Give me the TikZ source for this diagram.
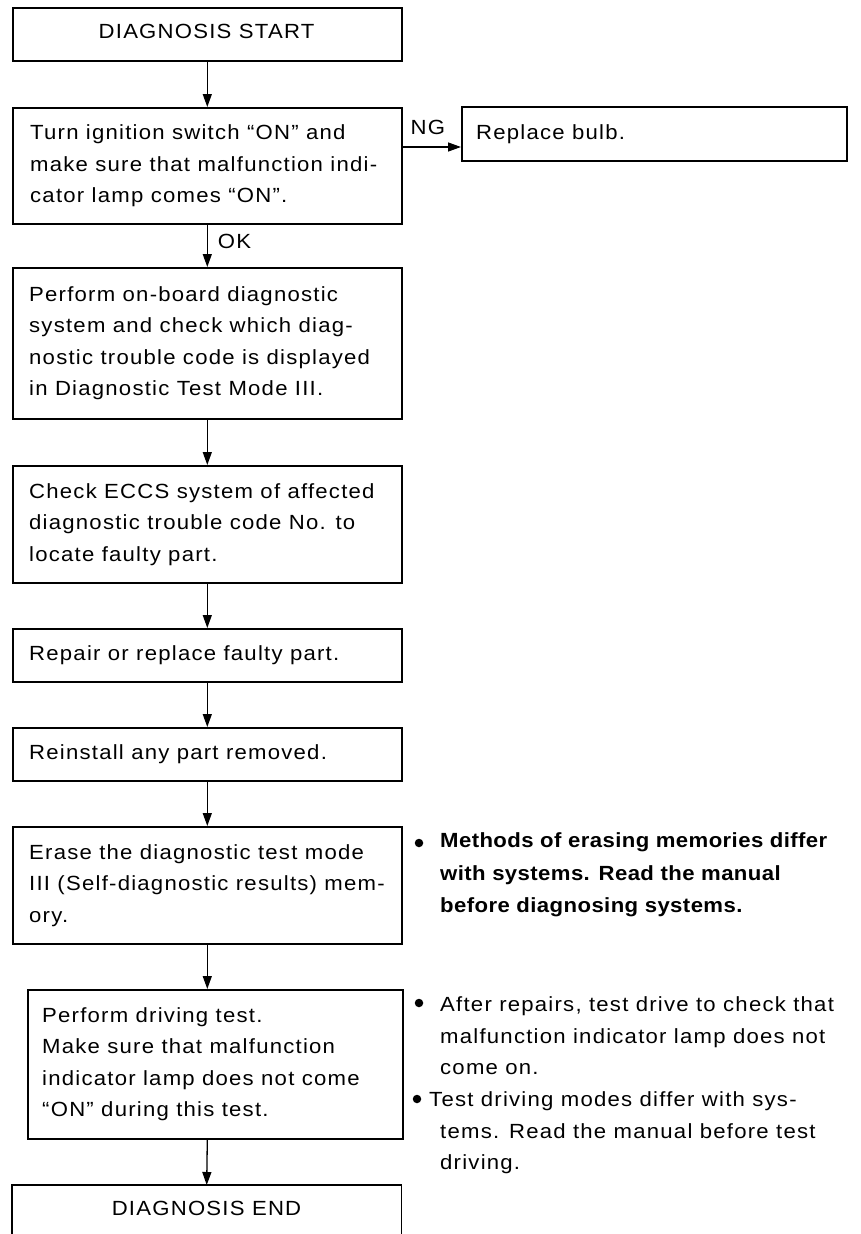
\documentclass[tikz,border=0pt]{standalone}
\usepackage{fontspec}
\setmainfont{Liberation Sans}[FakeStretch=1.08, LetterSpace=6]
\newfontfamily\notebold{Liberation Sans}[FakeStretch=1.08, LetterSpace=2]
\usetikzlibrary{arrows.meta}
\begin{document}
\begin{tikzpicture}[x=1pt,y=-1pt,
  box/.style={draw, line width=1.6pt, minimum width=389pt, inner sep=0pt, anchor=north west},
  txt/.style={align=left, inner sep=0pt, font=\fontsize{20.5}{31.5}\selectfont},
  arr/.style={-{Triangle[length=13pt,width=9pt]}, line width=1.3pt},
  lbl/.style={inner sep=0pt, font=\fontsize{20.5}{24}\selectfont},
  dot/.style={circle, fill, inner sep=0pt, minimum size=8.5pt}]
\useasboundingbox (0,0) rectangle (861,1234);

% flow boxes
\node[box, minimum height=53pt] (b1) at (12,7) {};
\node[lbl] (t1) at (206.5,31) {DIAGNOSIS START};
\node[box, minimum height=116pt] (b2) at (12,107) {};
\node[box, minimum width=385pt, minimum height=54pt] (b3) at (461,106) {};
\node[box, minimum height=151pt] (b4) at (12,267) {};
\node[box, minimum height=117pt] (b5) at (12,465) {};
\node[box, minimum height=53pt] (b6) at (12,628) {};
\node[box, minimum height=53pt] (b7) at (12,727) {};
\node[box, minimum height=117pt] (b8) at (12,826) {};
\node[box, minimum width=375pt, minimum height=149pt] (b9) at (27,989) {};
\node[anchor=north west, inner sep=0pt, minimum width=389pt, minimum height=49pt] (b10) at (12,1185) {};
\draw[line width=1.6pt] (b10.south west) -- (b10.north west) -- (b10.north east) -- (b10.south east);
\node[lbl] (t10) at (206.5,1208) {DIAGNOSIS END};

% box texts
\node[txt, anchor=west] (t2) at ([xshift=18pt]b2.west)
  {Turn ignition switch “ON” and\\make sure that malfunction indi-\\cator lamp comes “ON”.};
\node[txt, anchor=west] (t3) at ([xshift=15pt]b3.west) {Replace bulb.};
\node[txt, anchor=west] (t4) at ([xshift=17pt]b4.west)
  {Perform on-board diagnostic\\system and check which diag-\\nostic trouble code is displayed\\in Diagnostic Test Mode III.};
\node[txt, anchor=west] (t5) at ([xshift=17pt]b5.west)
  {Check ECCS system of affected\\diagnostic trouble code No. to\\locate faulty part.};
\node[txt, anchor=west] (t6) at ([xshift=17pt]b6.west) {Repair or replace faulty part.};
\node[txt, anchor=west] (t7) at ([xshift=17pt]b7.west) {Reinstall any part removed.};
\node[txt, anchor=west] (t8) at ([xshift=17pt]b8.west)
  {Erase the diagnostic test mode\\III (Self-diagnostic results) mem-\\ory.};
\node[txt, anchor=west] (t9) at ([xshift=15pt]b9.west)
  {Perform driving test.\\Make sure that malfunction\\indicator lamp does not come\\“ON” during this test.};

% side notes
\node[dot] (d1) at (419,843) {};
\node[txt, anchor=west, font=\fontsize{20.5}{32.5}\selectfont\notebold\bfseries] (n1) at (440,875)
  {Methods of erasing memories differ\\with systems. Read the manual\\before diagnosing systems.};
\node[dot] (d2) at (419,1003) {};
\node[txt, anchor=west] (n2) at (440,1036)
  {After repairs, test drive to check that\\malfunction indicator lamp does not\\come on.};
\node[dot] (d3) at (417,1099) {};
\node[txt, anchor=west] (n3) at (440,1133)
  {\hspace*{-11pt}Test driving modes differ with sys-\\tems. Read the manual before test\\driving.};

% connectors
\draw[arr] (b1.south) -- (b2.north);
\draw[arr] (b2.east |- 0,147) -- node[lbl, above=12pt, xshift=-4pt] (ng) {NG} (b3.west |- 0,147);
\draw[arr] (b2.south) -- node[lbl, right, xshift=10pt, yshift=4pt] (ok) {OK} (b4.north);
\draw[arr] (b4.south) -- (b5.north);
\draw[arr] (b5.south) -- (b6.north);
\draw[arr] (b6.south) -- (b7.north);
\draw[arr] (b7.south) -- (b8.north);
\draw[arr] (b8.south) -- (b8.south |- b9.north);
\draw[arr] (b8.south |- b9.south) -- (b10.north);
\end{tikzpicture}
\end{document}
